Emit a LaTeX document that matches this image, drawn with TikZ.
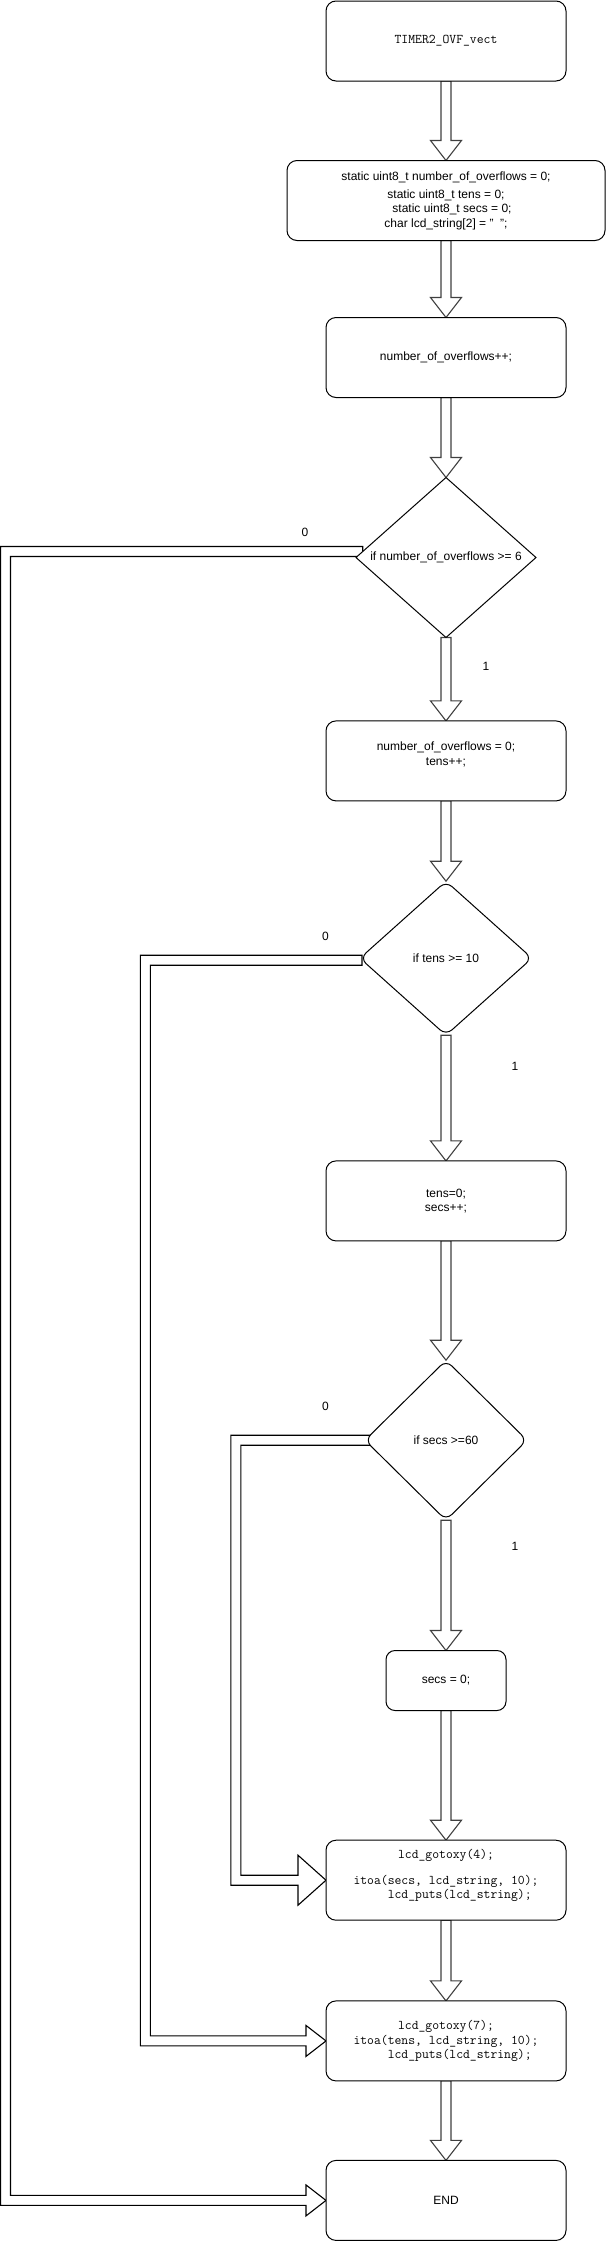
\documentclass[tikz,border=0pt]{standalone}
\usepackage{fontspec}
\setmainfont{Liberation Sans}
\usepackage{tikz}
\usetikzlibrary{positioning,shapes.geometric,calc,backgrounds}

\newcommand{\flexdown}[2]{%
	\draw[flex] ($(#1.south)+(-5,0)$) -- ($(#2.north)+(-5,20)$) -- ++(-10.5,0) -- (#2.north) -- ++(15.5,20) -- ++(-10.5,0) -- ($(#1.south)+(5,0)$) -- cycle;}
\newcommand{\flexloop}[6]{%
	\draw[flex,draw=black] let \p1=($(#1.west)+(#4)$), \p2=(#2.west) in
		(\x1,\y1+5pt) -- (#3pt,\y1+5pt) -- (#3pt,\y2-5pt) -- (\x2-#5pt,\y2-5pt) -- (\x2-#5pt,\y2-#6pt) -- (\p2)
		-- (\x2-#5pt,\y2+#6pt) -- (\x2-#5pt,\y2+5pt) -- (#3pt+10pt,\y2+5pt) -- (#3pt+10pt,\y1-5pt) -- (\x1,\y1-5pt) -- cycle;}

\begin{document}
\begin{tikzpicture}[x=1pt,y=1pt,line width=1pt,
	box/.style={draw,fill=white,rounded corners=10pt,minimum width=240pt,minimum height=80pt,
		align=center,inner sep=2pt,outer sep=0pt,font=\fontsize{12}{14.5}\selectfont},
	code/.style={font=\ttfamily\fontsize{13.3}{14.3}\selectfont},
	decision/.style={draw,fill=white,diamond,inner sep=0pt,outer sep=0pt,align=center,font=\fontsize{12}{14.5}\selectfont},
	flex/.style={draw=black!75,fill=white,line width=1.1pt,line join=miter},
	tag/.style={font=\fontsize{12}{14.5}\selectfont}]

	\useasboundingbox (0,0) rectangle (606,-2241);

	\node[box,code] (timer) at (446,-41) 		{TIMER2\_OVF\_vect};
	\node[box,minimum width=318pt] (vars) [below=79.5pt of timer]
		{static uint8\_t number\_of\_overflows = 0;\\[3.5pt]static uint8\_t tens = 0;\\\hspace*{12pt}static uint8\_t secs = 0;\\char lcd\_string[2] = "\ \ ";};
	\node[box] (incr) [below=77pt of vars]		{number\_of\_overflows++;};
	\node[decision,minimum width=180pt,minimum height=160pt,shape aspect=1.125] (cond1) [below=80pt of incr]
		{if number\_of\_overflows >= 6};
	\node[box] (reset1) [below=83.4pt of cond1]	{number\_of\_overflows = 0;\\tens++;\\\mbox{}};
	\node[decision,rounded corners=8pt,minimum width=172pt,minimum height=154pt,shape aspect=1.1] (cond2) [below=80.3pt of reset1]
		{if tens >= 10};
	\node[box] (reset2) [below=125.7pt of cond2]	{tens=0;\\secs++;};
	\node[decision,rounded corners=8pt,minimum width=162pt,minimum height=160pt,shape aspect=1] (cond3) [below=119.3pt of reset2]
		{if secs >=60};
	\node[box,minimum width=120pt,minimum height=60pt,rounded corners=9pt] (clear) [below=130.3pt of cond3] {secs = 0;};
	\node[box,code] (show1) [below=129.7pt of clear]
		{lcd\_gotoxy(4);\\[11.7pt]itoa(secs, lcd\_string, 10);\\\phantom{xxxx}lcd\_puts(lcd\_string);\\[-2.3pt]\mbox{}};
	\node[box,code] (show2) [below=80.7pt of show1]
		{lcd\_gotoxy(7);\\itoa(tens, lcd\_string, 10);\\\phantom{xxxx}lcd\_puts(lcd\_string);};
	\node[box] (finish) [below=79.5pt of show2]	{END};

	\node[tag] (no1) at (305,-532)			{0};
	\node[tag] (yes1) at (486,-666)			{1};
	\node[tag] (no2) at (325.5,-936)		{0};
	\node[tag] (yes2) at (515,-1066)		{1};
	\node[tag] (no3) at (325.5,-1406)		{0};
	\node[tag] (yes3) at (515,-1546)		{1};

	\begin{scope}[on background layer]
	\flexdown{timer}{vars}
	\flexdown{vars}{incr}
	\flexdown{incr}{cond1}
	\flexdown{cond1}{reset1}
	\flexdown{reset1}{cond2}
	\flexdown{cond2}{reset2}
	\flexdown{reset2}{cond3}
	\flexdown{cond3}{clear}
	\flexdown{clear}{show1}
	\flexdown{show1}{show2}
	\flexdown{show2}{finish}

	\flexloop{cond1}{finish}{0.5}{6.7,6}{20}{15.5}
	\flexloop{cond2}{show2}{140.3}{2,-2}{20}{15.5}
	\flexloop{cond3}{show1}{230.8}{6,0}{28}{25}
	\end{scope}

\end{tikzpicture}
\end{document}
